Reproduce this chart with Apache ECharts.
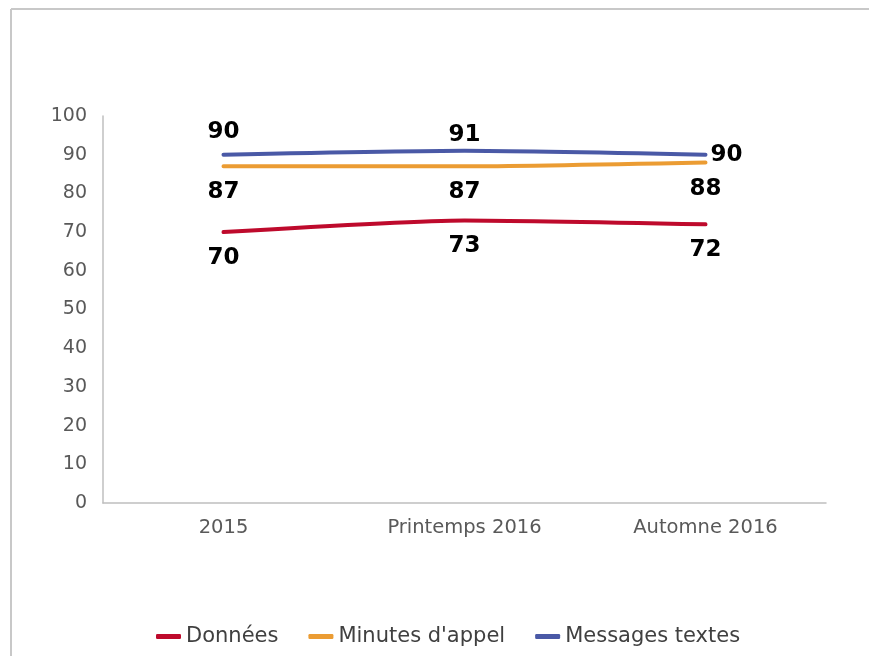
<!DOCTYPE html>
<html>
<head>
<meta charset="utf-8">
<script src="https://cdn.jsdelivr.net/npm/echarts@6/dist/echarts.min.js"></script>
<style>
  html, body { margin: 0; padding: 0; background: #ffffff; }
  #chart { width: 869px; height: 656px; }
</style>
</head>
<body>
<div id="chart"></div>
<script>
// Periods on the horizontal axis
const categories = ['2015', 'Printemps 2016', 'Automne 2016'];

// Shares per service (%)
const donnees = [70, 73, 72];
const minutesAppel = [87, 87, 88];
const messagesTextes = [90, 91, 90];

// Value axis
const yMin = 0;
const yMax = 100;
const yStep = 10;

const FONT = 'DejaVu Sans';
const AXIS_GREY = '#bfbfbf';
const TEXT_GREY = '#595959';

const labelStyle = {
  show: true,
  color: '#000000',
  fontFamily: FONT,
  fontWeight: 'bold',
  fontSize: 23
};

// placement: [position, distance] for each point's value label
function lineSeries(name, data, color, placement) {
  return {
    name: name,
    type: 'line',
    data: data.map((v, i) => ({
      value: v,
      label: Object.assign({}, labelStyle, {
        position: placement[i][0],
        distance: placement[i][1]
      })
    })),
    smooth: 0.2,
    symbol: 'circle',
    symbolSize: 0.1,
    showSymbol: true,
    lineStyle: { color: color, width: 4, cap: 'round' },
    itemStyle: { color: color },
    label: labelStyle,
    emphasis: { disabled: true }
  };
}

const chart = echarts.init(document.getElementById('chart'), null, { renderer: 'canvas' });

chart.setOption({
  animation: false,
  backgroundColor: '#ffffff',
  graphic: [
    { type: 'line', shape: { x1: 11, y1: 9, x2: 869, y2: 9 }, style: { stroke: '#c8c8c8', lineWidth: 2 } },
    { type: 'line', shape: { x1: 11, y1: 9, x2: 11, y2: 656 }, style: { stroke: '#c8c8c8', lineWidth: 2 } }
  ],
  grid: { left: 103, right: 43, top: 116, bottom: 153 },
  xAxis: {
    type: 'category',
    data: categories,
    boundaryGap: true,
    axisLine: { lineStyle: { color: AXIS_GREY, width: 1.5 } },
    axisTick: { show: false },
    axisLabel: { color: TEXT_GREY, fontFamily: FONT, fontSize: 19.5, margin: 15 }
  },
  yAxis: {
    type: 'value',
    min: yMin,
    max: yMax,
    interval: yStep,
    axisLine: { show: true, lineStyle: { color: AXIS_GREY, width: 1.5 } },
    axisTick: { show: false },
    splitLine: { show: false },
    axisLabel: { color: TEXT_GREY, fontFamily: FONT, fontSize: 19, margin: 16 }
  },
  legend: {
    bottom: 4,
    left: 151,
    itemWidth: 25,
    itemHeight: 5,
    itemGap: 30,
    icon: 'roundRect',
    textStyle: { color: '#404040', fontFamily: FONT, fontSize: 21 },
    data: ['Données', "Minutes d'appel", 'Messages textes']
  },
  series: [
    lineSeries('Données', donnees, '#be0a2c', [['bottom', 14], ['bottom', 14], ['bottom', 14]]),
    lineSeries("Minutes d'appel", minutesAppel, '#eb9c33', [['bottom', 14], ['bottom', 14], ['bottom', 15]]),
    lineSeries('Messages textes', messagesTextes, '#4a59a6', [['top', 11], ['top', 4], ['right', 5]])
  ]
});
</script>
</body>
</html>
